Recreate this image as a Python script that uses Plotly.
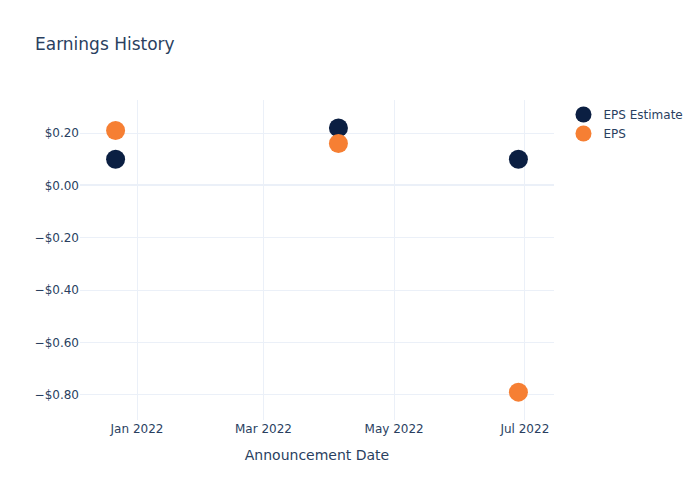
import plotly.graph_objects as go

dates = ["2021-12-22", "2022-04-05", "2022-06-28"]
eps_estimate = [0.10, 0.22, 0.10]
eps_actual = [0.21, 0.16, -0.79]

fig = go.Figure()
fig.add_trace(go.Scatter(x=dates, y=eps_estimate, mode="markers", name="EPS Estimate",
                         marker=dict(color="#0b1f42", size=19)))
fig.add_trace(go.Scatter(x=dates, y=eps_actual, mode="markers", name="EPS",
                         marker=dict(color="#f67f33", size=19)))
fig.update_layout(
    template="plotly_white",
    width=700, height=500,
    font=dict(family="DejaVu Sans"),
    title=dict(text="Earnings History"),
    xaxis=dict(title=dict(text="Announcement Date")),
    yaxis=dict(tickformat="$.2f"),
)
fig.write_html("out.html")
